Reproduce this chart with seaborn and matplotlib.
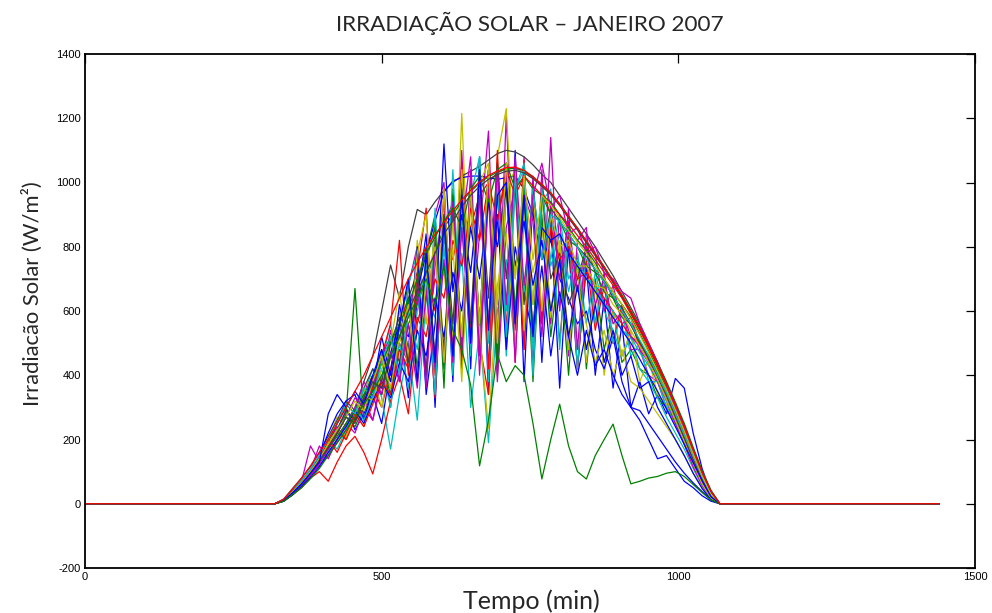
import matplotlib
matplotlib.use("Agg")
import matplotlib.pyplot as plt
import numpy as np
import pandas as pd
import seaborn as sns

# ---------------- data ----------------
# minutes of the day at which irradiance is sampled (daylight part)
minutos = [335, 350, 365, 380, 395, 410, 425, 440, 455, 470, 485, 500, 515, 530,
           545, 560, 575, 590, 605, 620, 635, 650, 665, 680, 695, 710, 725, 740,
           755, 770, 785, 800, 815, 830, 845, 860, 875, 890, 905, 920, 935, 950,
           965, 980, 995, 1010, 1025, 1040, 1055]
# night-time samples (irradiance = 0)
noite_antes = [0, 320]
noite_depois = [1070, 1440]

dia01 = [8,30,55,90,130,180,250,300,230,280, 340,250,420,560,330,640,840,300,900,380,
         1000,420,1080,340,980,500,1100,380,960,440, 880,360,800,420,740,400,640,360,560,300,
         380,280,340,280,390,360,220,110,30]
dia02 = [8,28,55,85,130,170,220,280,670,260, 380,480,300,560,680,420,780,900,360,980,
         480,1000,520,1040,400,980,560,960,380,900, 520,760,400,780,420,700,480,600,440,480,
         420,400,330,300,250,190,130,65,18]
dia03 = [10,35,60,90,120,150,190,230,280,320, 360,300,420,520,460,640,720,600,820,760,
         900,860,960,1000,1030,1045,1045,1035,1015,990, 965,930,890,855,815,775,735,690,645,595,
         545,490,430,370,305,240,165,95,35]
dia04 = [10,36,62,95,130,160,200,240,290,340, 420,330,170,340,480,260,640,580,860,520,
         780,300,540,190,600,760,480,880,620,980, 740,840,660,780,560,720,600,540,460,520,
         420,380,330,270,220,170,110,55,15]
dia05 = [12,40,70,90,120,150,200,250,220,300, 260,380,540,400,680,800,380,900,1000,480,
         1100,520,840,1160,480,1210,540,1080,420,1040, 560,900,460,820,860,560,720,500,620,480,
         480,400,380,300,260,195,125,65,18]
dia06 = [10,38,70,105,140,200,270,240,300,350, 400,300,460,600,420,820,560,640,720,480,
         1215,540,940,560,1080,1230,700,1020,620,960, 580,820,480,740,440,680,400,600,460,540,
         380,450,340,310,250,185,115,58,15]
dia07 = [15,48,80,115,160,210,260,320,290,380, 460,600,743,640,800,916,900,940,975,1000,
         1020,1035,1050,1070,1090,1100,1095,1080,1055,1025, 1000,960,920,880,840,800,755,710,660,610,
         560,500,440,375,310,240,165,95,35]
dia08 = [12,38,65,95,135,180,230,290,260,330, 400,360,470,560,520,660,780,880,970,1005,
         1015,1020,1020,1015,1010,1015,1020,980,900,760, 820,700,640,560,600,480,420,520,380,300,
         260,200,140,150,110,70,50,25,8]
dia09 = [10,38,65,100,140,170,220,200,270,320, 380,340,460,420,560,620,700,780,860,900,
         942,972,998,1018,1032,1042,1044,1036,1018,994, 968,934,896,858,818,778,738,694,650,602,
         552,498,440,380,316,250,176,104,42]
dia10 = [10,28,50,80,100,70,130,180,210,160, 93,200,320,400,280,560,680,330,860,940,
         420,980,500,340,880,1020,440,1070,520,980, 900,500,840,420,760,540,680,500,620,580,
         500,460,400,340,270,205,135,68,18]
dia11 = [12,42,75,105,140,200,170,230,300,260, 350,440,560,400,680,780,360,920,420,1040,
         480,960,1080,380,1020,460,980,1060,400,940, 980,480,880,420,820,560,700,500,600,460,
         500,380,380,300,260,195,125,62,16]
dia12 = [10,35,70,180,130,190,240,200,270,330, 260,400,360,500,440,660,420,740,940,440,
         860,1080,460,960,380,860,980,480,1020,560, 1140,600,920,480,840,780,600,680,560,580,
         480,440,380,320,250,185,115,58,15]
dia13 = [10,32,60,92,130,170,230,200,280,240, 330,400,360,520,440,700,560,860,480,800,
         380,940,540,235,680,840,480,900,720,860, 600,800,520,680,560,440,540,400,480,380,
         360,320,280,240,200,150,95,48,12]
dia14 = [12,38,70,100,140,190,250,310,280,360, 420,380,520,440,640,720,400,820,480,920,
         460,980,560,1040,500,1060,580,1020,520,980, 700,780,620,700,800,720,700,640,610,560,
         500,460,400,345,285,220,155,88,30]
dia15 = [10,36,66,100,150,220,280,320,340,260, 360,520,400,620,480,800,340,560,1120,660,
         900,720,1000,560,900,480,800,660,520,740, 460,660,520,400,540,430,480,400,340,300,
         290,250,210,170,130,95,65,38,12]
dia16 = [10,34,62,95,130,170,220,270,240,300, 360,440,340,560,640,380,760,860,420,960,
         500,1000,560,1040,440,1060,600,980,520,960, 900,880,820,800,740,720,660,640,580,560,
         500,460,410,355,290,225,160,95,32]
dia17 = [10,38,65,100,140,180,230,200,260,300, 360,460,560,820,400,720,920,400,980,460,
         1060,520,1020,420,1100,540,1040,480,980,560, 860,760,800,700,720,680,640,600,560,520,
         500,450,400,340,280,215,150,85,28]
dia18 = [10,33,60,92,125,160,200,250,300,260, 330,420,300,500,360,600,740,340,860,400,
         980,460,1080,500,1040,520,980,1040,480,980, 760,900,700,760,700,680,620,600,540,520,
         470,430,380,320,260,195,130,70,18]
dia19 = [12,38,70,105,180,140,200,250,300,380, 330,460,520,380,600,700,360,800,440,940,
         480,1040,400,980,500,1060,440,960,880,520, 940,700,880,660,800,620,700,560,600,520,
         490,440,380,325,265,200,135,68,18]
dia20 = [10,36,66,100,140,190,230,210,280,340, 320,420,500,660,460,780,900,420,980,520,
         1040,560,1000,1060,500,980,1040,540,980,600, 900,800,820,740,740,680,670,620,590,540,
         490,440,385,325,260,195,125,62,16]
dia21 = [10,34,62,95,135,175,230,290,260,330, 400,340,500,580,440,680,800,460,900,560,
         980,560,1040,640,1060,700,1000,620,980,760, 920,880,840,800,770,730,690,650,600,555,
         505,450,395,335,272,205,138,76,24]
dia22 = [8,28,55,82,115,160,200,240,290,250, 320,380,330,440,380,540,460,640,520,720,
         600,860,700,940,800,980,740,880,680,820, 600,760,520,680,480,620,440,540,400,460,
         360,380,300,250,200,150,95,48,12]
dia23 = [10,34,64,98,135,170,210,250,290,340, 390,440,500,560,620,700,780,830,880,920,
         860,980,1020,940,1040,1060,980,1020,980,960, 940,900,860,820,790,750,700,660,620,580,
         530,475,420,360,300,232,162,95,36]
dia24 = [10,38,70,100,135,200,160,220,280,240, 310,380,340,480,420,580,520,700,640,820,
         740,920,820,1000,880,1040,960,1020,990,960, 930,900,870,835,800,760,720,680,640,590,
         540,485,428,368,305,240,166,97,37]
dia25 = [12,38,72,108,150,200,250,310,280,360, 330,440,520,400,600,480,700,420,800,460,
         880,500,960,540,1000,600,1020,660,980,760, 900,880,840,800,760,730,690,650,600,560,
         510,460,400,345,280,215,150,85,28]
dia26 = [10,33,60,88,125,170,220,270,330,300, 390,340,470,380,560,360,660,420,760,440,
         860,500,960,560,1040,620,1080,680,960,1060, 920,960,840,860,780,800,720,700,660,640,
         560,500,440,370,300,235,165,98,38]
dia27 = [10,36,66,100,140,185,230,270,320,290, 380,460,360,520,620,400,700,800,440,880,
         520,980,560,1040,620,1060,700,1020,760,960, 930,890,850,815,780,740,700,660,620,575,
         525,470,412,355,292,226,156,88,30]
dia28 = [10,34,62,95,135,175,220,270,250,320, 380,360,460,520,600,660,720,780,840,880,
         925,960,988,1010,1025,1035,1038,1030,1012,988, 962,928,890,852,812,772,732,688,644,596,
         546,492,434,374,310,244,170,99,40]
dia29 = [10,34,62,95,130,280,340,300,350,310, 400,480,380,560,700,380,780,440,880,460,
         960,500,1040,540,960,1000,560,960,520,860, 820,840,780,740,700,660,620,580,540,500,
         450,400,350,295,240,185,128,72,22]
dia30 = [8,28,50,78,110,150,190,230,270,310, 350,400,460,520,580,640,700,620,740,540,
         480,370,118,260,465,380,430,400,250,77, 200,310,180,100,77,150,200,248,150,62,
         70,80,85,95,100,85,60,35,12]
dia31 = [14,46,80,118,160,200,250,300,350,400, 460,520,580,640,700,750,798,838,876,912,
         946,976,1002,1022,1036,1046,1048,1038,1018,994, 968,932,894,858,818,778,738,694,648,598,
         548,494,434,374,308,242,168,98,38]

dias = [dia01, dia02, dia03, dia04, dia05, dia06, dia07, dia08, dia09, dia10,
        dia11, dia12, dia13, dia14, dia15, dia16, dia17, dia18, dia19, dia20,
        dia21, dia22, dia23, dia24, dia25, dia26, dia27, dia28, dia29, dia30, dia31]
rotulos_dias = [f"{i+1:02d}" for i in range(len(dias))]
for k, d in enumerate(dias):
    assert len(d) == len(minutos), (k + 1, len(d))

xticks = [0, 500, 1000, 1500]
yticks = [-200, 0, 200, 400, 600, 800, 1000, 1200, 1400]

titulo = "IRRADIAÇÃO SOLAR – JANEIRO 2007"
rotulo_x = "Tempo (min)"
rotulo_y = "Irradiacão Solar (W/m²)"

# MATLAB default colour order
cores_matlab = ["#0000FF", "#008000", "#FF0000", "#00BFBF", "#BF00BF", "#BFBF00", "#404040"]

# ---------------- long-form table ----------------
tempo_completo = noite_antes + minutos + noite_depois
linhas = []
for rot, vals in zip(rotulos_dias, dias):
    serie = [0, 0] + vals + [0, 0]
    for t, v in zip(tempo_completo, serie):
        linhas.append((rot, t, v))
df = pd.DataFrame(linhas, columns=["Dia", "Tempo", "Irradiacao"])

paleta = [cores_matlab[i % len(cores_matlab)] for i in range(len(dias))]

# ---------------- plot ----------------
sns.set_style("white")
plt.rcParams["font.family"] = ["Lato", "DejaVu Sans"]

fig = plt.figure(figsize=(9.92, 6.13), dpi=100)
ax = fig.add_axes([85 / 992, 1 - 568 / 613, (975 - 85) / 992, (568 - 54) / 613])

sns.lineplot(data=df, x="Tempo", y="Irradiacao", hue="Dia", hue_order=rotulos_dias,
             palette=paleta, legend=False, estimator=None, errorbar=None, sort=False,
             linewidth=0.9, ax=ax)

ax.set_xlim(0, 1500)
ax.set_ylim(-200, 1400)
ax.set_xticks(xticks)
ax.set_yticks(yticks)
ax.set_xticklabels([str(v) for v in xticks])
ax.set_yticklabels([str(v) for v in yticks])
ax.tick_params(direction="in", length=6.5, width=0.9, top=True, right=True,
               labelsize=8, pad=3, colors="black")
for lbl in ax.get_xticklabels() + ax.get_yticklabels():
    lbl.set_family(["Liberation Sans", "DejaVu Sans"])
for sp in ax.spines.values():
    sp.set_visible(True)
    sp.set_color("black")
    sp.set_linewidth(1.3)
ax.set_xlabel("")
ax.set_ylabel("")

fig.text(530 / 992, 1 - 31 / 613, titulo, ha="center", va="baseline", fontsize=16.2)
fig.text(531 / 992, 1 - 609 / 613, rotulo_x, ha="center", va="baseline", fontsize=18)
fig.text(32 / 992, 1 - 294 / 613, rotulo_y, ha="center", va="center", rotation=90,
         fontsize=15.8)

fig.savefig("out.png", dpi=100)
